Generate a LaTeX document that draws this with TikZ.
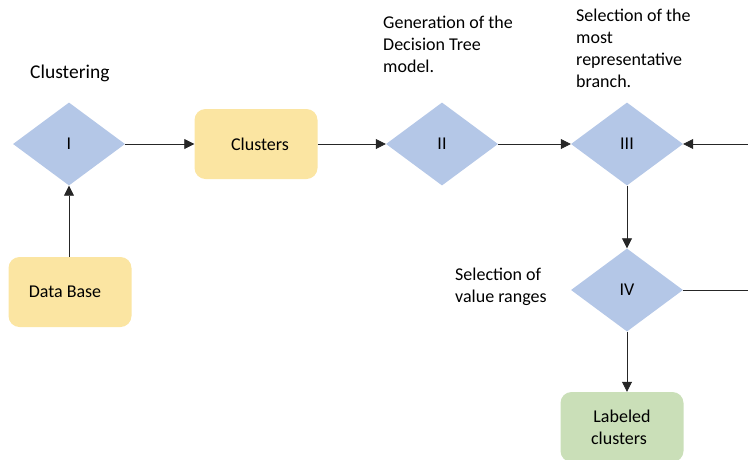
\documentclass[tikz,border=0pt]{standalone}
\usepackage{fontspec}
\setmainfont{Carlito}
\usetikzlibrary{shapes.geometric,arrows.meta}
\definecolor{decblue}{HTML}{B4C7E7}
\definecolor{procgold}{HTML}{FBE5A2}
\definecolor{procgreen}{HTML}{CADFB8}
\newcommand\diaglbl{\fontsize{18}{22}\selectfont}
\newcommand\diagtitle{\fontsize{19.5}{24}\selectfont}
\begin{document}
\begin{tikzpicture}[x=1pt,y=-1pt,
  decision/.style={diamond, fill=decblue, inner sep=0pt,
    minimum width=112pt, minimum height=83pt, font=\diaglbl},
  procbox/.style={rectangle, rounded corners=11pt, inner sep=0pt,
    minimum width=123pt, minimum height=70pt, font=\diaglbl, align=center},
  note/.style={anchor=north west, inner sep=0pt, align=left, font=\diaglbl},
  flow/.style={draw=black!85, line width=0.8pt, -{Triangle[length=10pt,width=10pt]}},
  plain/.style={draw=black!85, line width=0.8pt}]
\useasboundingbox (0,0) rectangle (748,459);

% decision steps
\node[decision] (d1) at (69,144) {I};
\node[decision] (d2) at (442,144) {II};
\node[decision] (d3) at (627,144) {III};
\node[decision] (d4) at (627,290) {IV};

% data boxes
\node[procbox, fill=procgold] (db) at (70,292) {Data Base\hspace*{10pt}};
\node[procbox, fill=procgold] (cl) at (256,144) {\hspace*{8pt}Clusters};
\node[procbox, fill=procgreen] (lc) at (622,427) {Labeled\\clusters\hspace*{6pt}};

% step descriptions
\node[anchor=north west, inner sep=0pt, font=\diagtitle] (t1) at (30,65) {Clustering};
\node[note] (t2) at (383,16) {Generation of the\\Decision Tree\\model.};
\node[note] (t3) at (576,9) {Selection of the\\most\\representative\\branch.};
\node[note] (t4) at (455,268) {Selection of\\value ranges};

% loose ends at the right margin
\coordinate (inR) at (748,144);
\coordinate (outR) at (748,290);

% connectors
\draw[flow] (db.north -| d1.south) -- (d1.south);
\draw[flow] (d1.east) -- (cl.west |- d1.east);
\draw[flow] (cl.east |- d2.west) -- (d2.west);
\draw[flow] (d2.east) -- (d3.west);
\draw[flow] (inR) -- (d3.east);
\draw[flow] (d3.south) -- (d4.north);
\draw[flow] (d4.south) -- (d4.south |- lc.north);
\draw[plain] (d4.east) -- (outR);
\end{tikzpicture}
\end{document}
